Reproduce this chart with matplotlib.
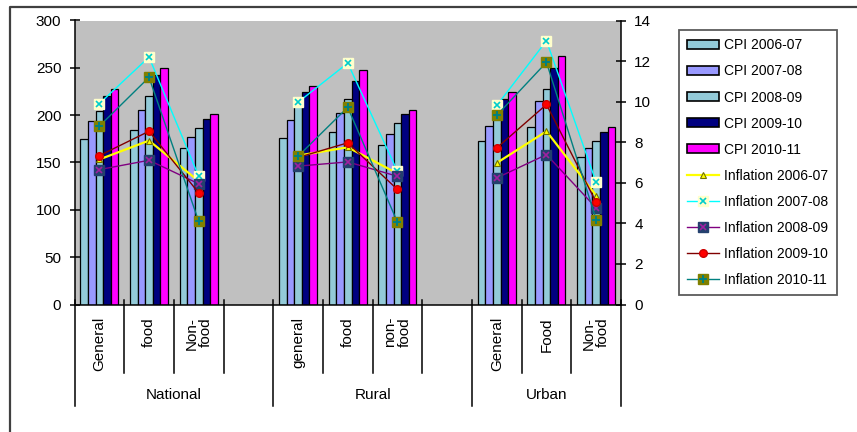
import numpy as np
import matplotlib
matplotlib.use("Agg")
import matplotlib.pyplot as plt
from matplotlib.lines import Line2D
from matplotlib.patches import Patch
from matplotlib.transforms import blended_transform_factory
from matplotlib.legend_handler import HandlerTuple

plt.rcParams['font.family'] = ['Liberation Sans', 'DejaVu Sans']

nan = np.nan

# Category slots (blank slots separate the three regions)
categories = ["General", "food", "Non-\nfood", "",
              "general", "food", "non-\nfood", "",
              "General", "Food", "Non-\nfood"]
groups = ["National", "Rural", "Urban"]

# Consumer price index by year
cpi_2006_07 = [175, 184, 165, nan, 176, 182, 168, nan, 173, 188, 156]
cpi_2007_08 = [194, 205, 177, nan, 195, 202, 180, nan, 189, 215, 165]
cpi_2008_09 = [204, 220, 186, nan, 213, 217, 192, nan, 203, 228, 173]
cpi_2009_10 = [220, 242, 196, nan, 224, 236, 201, nan, 217, 250, 182]
cpi_2010_11 = [228, 250, 201, nan, 231, 248, 205, nan, 224, 263, 187]

# Inflation rate (%) by year
infl_2006_07 = [7.15, 8.08, 6.08, nan, 7.34, 7.75, 6.46, nan, 6.98, 8.54, 5.37]
infl_2007_08 = [9.9, 12.2, 6.32, nan, 9.97, 11.9, 6.57, nan, 9.81, 13.0, 6.03]
infl_2008_09 = [6.65, 7.11, 5.95, nan, 6.82, 7.03, 6.32, nan, 6.24, 7.39, 4.76]
infl_2009_10 = [7.34, 8.54, 5.5, nan, 7.25, 7.97, 5.67, nan, 7.72, 9.86, 5.04]
infl_2010_11 = [8.79, 11.2, 4.1, nan, 7.31, 9.72, 4.06, nan, 9.33, 11.94, 4.19]

W, H = 857, 432
fig = plt.figure(figsize=(W / 100, H / 100), dpi=100)

# chart-area border
fig.add_artist(Line2D([10 / W, 10 / W, 1.0], [0.0, 1 - 7 / H, 1 - 7 / H],
                      transform=fig.transFigure, color="#404040", lw=1.6))

x0, x1, y0, y1 = 74.5, 621, 304.5, 20.5
ax = fig.add_axes([x0 / W, 1 - y0 / H, (x1 - x0) / W, (y0 - y1) / H])
ax.set_facecolor("#C0C0C0")
ax.set_xlim(-0.5, 10.5)
ax.set_ylim(0, 300)
ax.set_yticks(range(0, 301, 50))
ax.set_xticks([])

x = np.arange(len(categories))
bw = 0.153
cpi_series = [
    ("CPI 2006-07", cpi_2006_07, "#93CAD8"),
    ("CPI 2007-08", cpi_2007_08, "#9999FF"),
    ("CPI 2008-09", cpi_2008_09, "#93CAD8"),
    ("CPI 2009-10", cpi_2009_10, "#000080"),
    ("CPI 2010-11", cpi_2010_11, "#FF00FF"),
]
handles, labels = [], []
for i, (name, vals, col) in enumerate(cpi_series):
    v = np.array(vals, dtype=float)
    m = ~np.isnan(v)
    ax.bar(x[m] + (i - 2) * bw, v[m], width=bw, color=col,
           edgecolor="black", linewidth=0.9)
    handles.append(Patch(facecolor=col, edgecolor="black", linewidth=1.2))
    labels.append(name)

ax2 = ax.twinx()
ax2.set_ylim(0, 14)
ax2.set_yticks(range(0, 15, 2))

# Inflation lines: (label, values, line colour, width, base marker, overlay marker)
infl_series = [
    ("Inflation 2006-07", infl_2006_07, "#FFFF00", 1.6,
     dict(marker="^", ms=5, mfc="#FFFF00", mec="#707000", mew=0.8), None),
    ("Inflation 2007-08", infl_2007_08, "#00FFFF", 1.0,
     dict(marker="s", ms=7, mfc="#FFFFCC", mec="#FFFFCC"),
     dict(marker="x", ms=5, mec="#00CCCC", mew=1.2)),
    ("Inflation 2008-09", infl_2008_09, "#800080", 1.0,
     dict(marker="s", ms=7, mfc="#24406E", mec="#24406E"),
     dict(marker="x", ms=4.5, mec="#A020A0", mew=1.2)),
    ("Inflation 2009-10", infl_2009_10, "#800000", 1.0,
     dict(marker="o", ms=5.5, mfc="#FF0000", mec="#CC0000"), None),
    ("Inflation 2010-11", infl_2010_11, "#008080", 1.0,
     dict(marker="s", ms=7, mfc="#808000", mec="#808000"),
     dict(marker="+", ms=5.5, mec="#008080", mew=1.4)),
]
for name, vals, col, lw, base, over in infl_series:
    v = np.array(vals, dtype=float)
    l1, = ax2.plot(x, v, color=col, lw=lw, **base)
    if over is not None:
        l2, = ax2.plot(x, v, ls="none", **over)
        handles.append((l1, l2))
    else:
        handles.append(l1)
    labels.append(name)

for a in (ax, ax2):
    a.spines["top"].set_visible(False)
ax.spines["right"].set_visible(False)
ax2.spines["left"].set_visible(False)
ax2.spines["bottom"].set_visible(False)
for s in ("left", "bottom"):
    ax.spines[s].set_linewidth(1.1)
ax2.spines["right"].set_linewidth(1.1)
ax.tick_params(axis="y", direction="inout", length=7, width=1.1,
               labelsize=11, pad=6)
ax2.tick_params(axis="y", direction="inout", length=7, width=1.1,
                labelsize=11, pad=6)

# two-level category axis
tr = blended_transform_factory(ax.transData, ax.transAxes)
axh = y0 - y1
def frac(py):
    return -(py - y0) / axh

long_b = [-0.5, 3.5, 7.5, 10.5]
short_b = [0.5, 1.5, 2.5, 4.5, 5.5, 6.5, 8.5, 9.5]
for b in long_b:
    ax.add_line(Line2D([b, b], [frac(300), frac(406)], transform=tr,
                       color="black", lw=1.1, clip_on=False))
for b in short_b:
    ax.add_line(Line2D([b, b], [frac(300), frac(373)], transform=tr,
                       color="black", lw=1.1, clip_on=False))

for xi, lab in zip(x, categories):
    if lab:
        ax.text(xi, frac(317), lab, transform=tr, rotation=90,
                ha="center", va="top", fontsize=11, multialignment="right",
                linespacing=1.0)

group_pos = [1.5, 5.5, 9.0]
for gx, g in zip(group_pos, groups):
    ax.text(gx, frac(395), g, transform=tr, ha="center", va="center",
            fontsize=11)

leg = fig.legend(handles, labels, loc="upper left",
                 bbox_to_anchor=(679 / W, 1 - 30 / H), borderaxespad=0,
                 fontsize=10, frameon=True, fancybox=False,
                 edgecolor="#333333", borderpad=0.6, labelspacing=0.87,
                 handlelength=2.25, handletextpad=0.4, handleheight=0.65,
                 handler_map={tuple: HandlerTuple(ndivide=1)})
leg.get_frame().set_linewidth(1.3)

fig.savefig("out.png", dpi=100)
